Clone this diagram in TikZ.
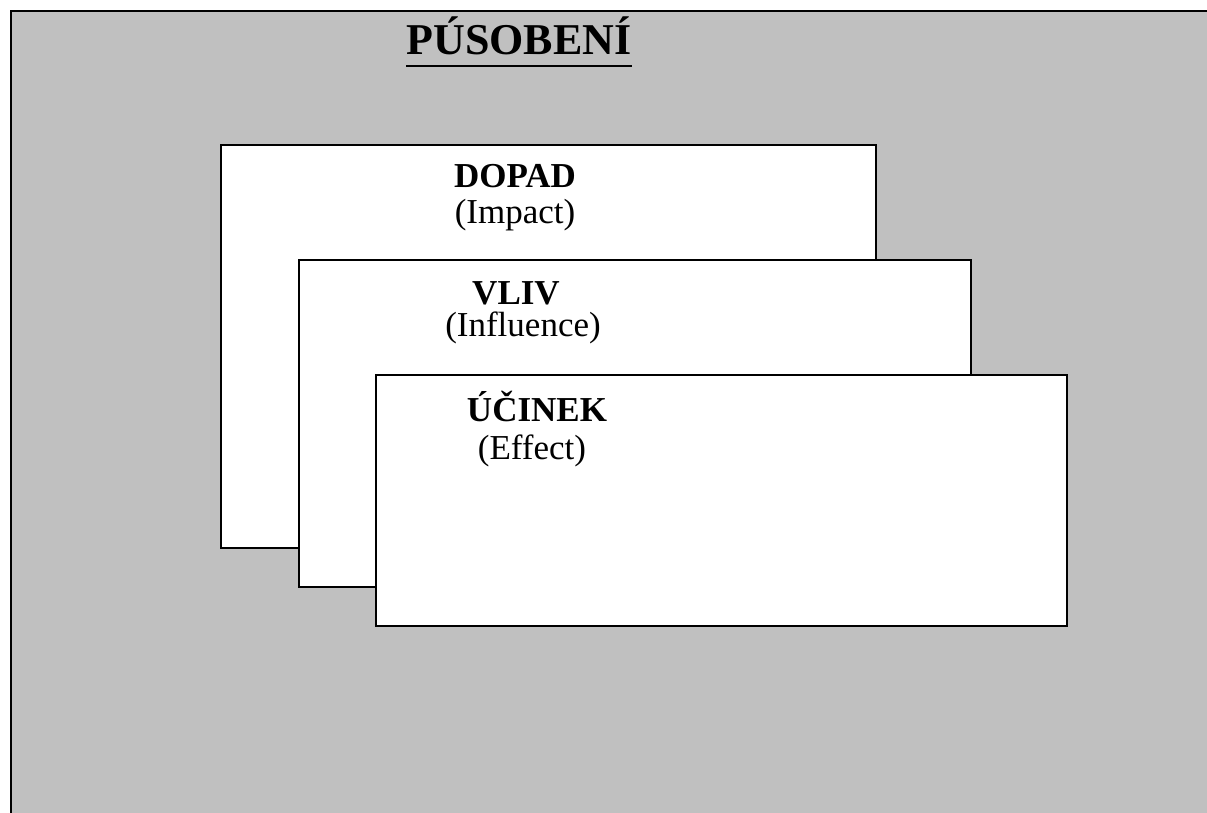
\documentclass[tikz,border=0pt]{standalone}
\usepackage{fontspec}
\setmainfont{Liberation Serif}
\definecolor{bggray}{RGB}{192,192,192}
\begin{document}
\begin{tikzpicture}[x=1pt,y=1pt,
  layer/.style={draw=black, fill=white, line width=2pt, rectangle, inner sep=0pt},
  head/.style={anchor=base, font=\fontsize{35}{42}\selectfont\bfseries, inner sep=0pt},
  sub/.style={anchor=base, font=\fontsize{35}{42}\selectfont, inner sep=0pt}]
\useasboundingbox (0,0) rectangle (1207,813);
\clip (0,0) rectangle (1207,813);
\draw[line width=2.4pt, fill=bggray] (11,-20) rectangle (1230,802);
\node[anchor=base, font=\fontsize{44}{52}\selectfont\bfseries, inner sep=0pt] (title) at (519,758) {PÚSOBENÍ};
\draw[line width=2.6pt] ([yshift=-11pt]title.base west) -- ([yshift=-11pt]title.base east);
\node[layer, minimum width=655, minimum height=403] (dopad) at (548.5,466.5) {};
\node[head] (dopadt) at (515,625) {DOPAD};
\node[sub] (dopads) at (515,589) {(Impact)};
\node[layer, minimum width=672, minimum height=327] (vliv) at (635,389.5) {};
\node[head] (vlivt) at (516,508) {VLIV};
\node[sub] (vlivs) at (523,476) {(Influence)};
\node[layer, minimum width=691, minimum height=251] (ucinek) at (721.5,312.5) {};
\node[head] (ucinekt) at (537,391) {ÚČINEK};
\node[sub] (ucineks) at (532,353) {(Effect)};
\end{tikzpicture}
\end{document}
